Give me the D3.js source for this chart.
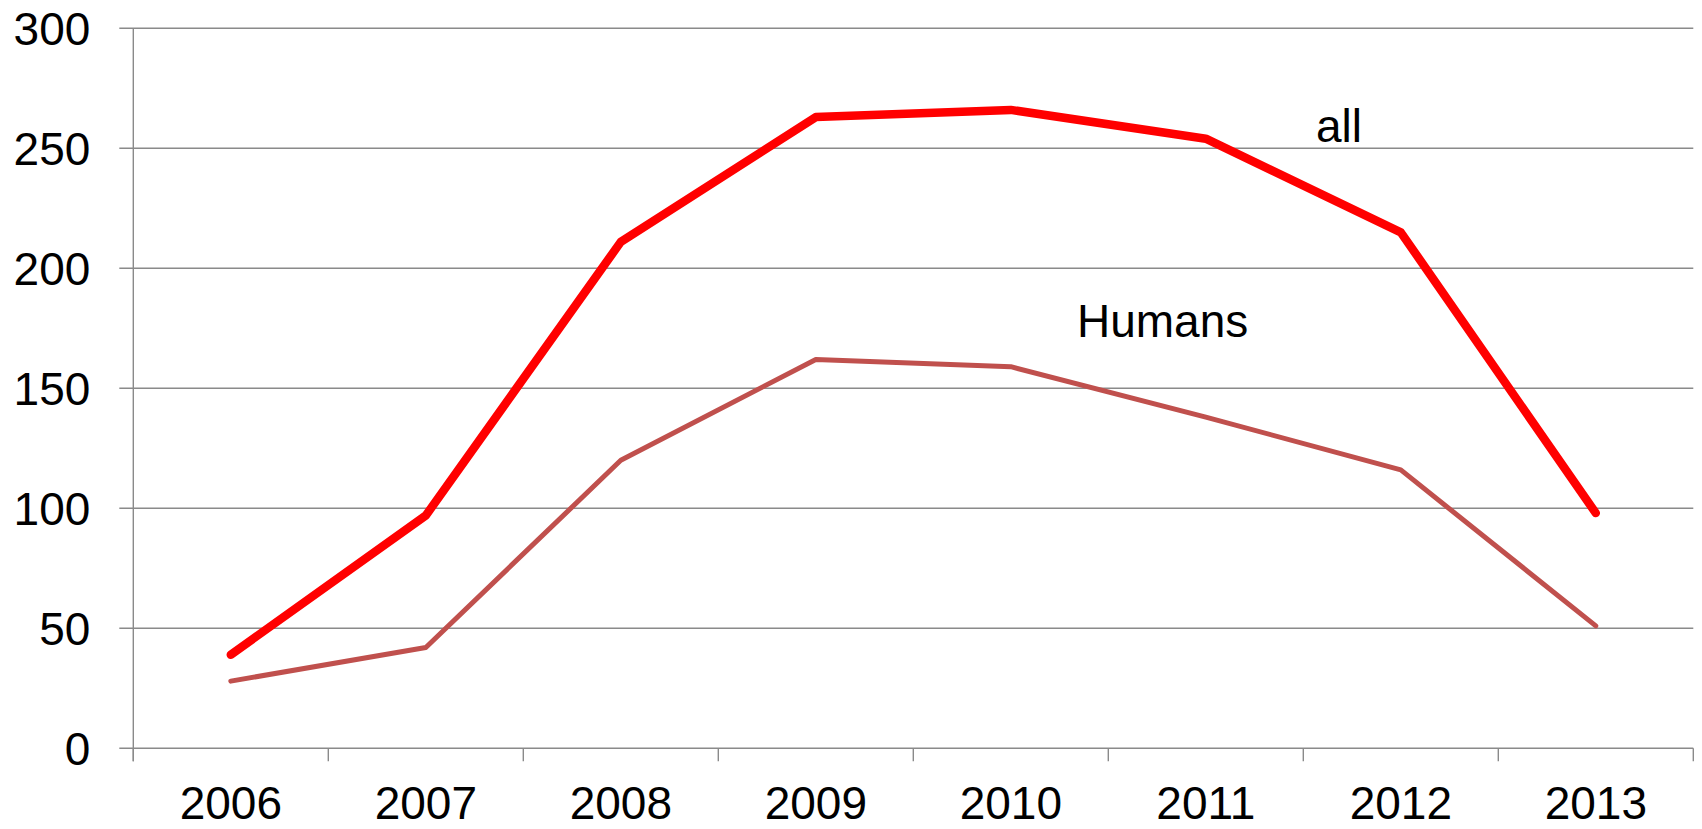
<!DOCTYPE html>
<html>
<head>
<meta charset="utf-8">
<script src="https://cdn.jsdelivr.net/npm/d3@7"></script>
<style>
  body { margin: 0; background: #fff; }
  text { font-family: Arial, "Liberation Sans", sans-serif; fill: #000; }
</style>
</head>
<body>
<div id="chart"></div>
<script>
'use strict';

const years = ["2006", "2007", "2008", "2009", "2010", "2011", "2012", "2013"];
const allValues = [39, 97, 211, 263, 266, 254, 215, 98];
const humanValues = [28, 42, 120, 162, 159, 138, 116, 51];
const yTicks = [0, 50, 100, 150, 200, 250, 300];

const width = 1702, height = 829;
const margin = { top: 28.3, right: 8.7, bottom: 80.7, left: 133.3 };
const innerW = width - margin.left - margin.right;
const innerH = height - margin.top - margin.bottom;

const svg = d3.select("#chart")
    .append("svg")
    .attr("width", width)
    .attr("height", height);

const g = svg.append("g")
    .attr("transform", "translate(" + margin.left + "," + margin.top + ")");

const x = d3.scaleBand()
    .domain(years)
    .range([0, innerW]);

const y = d3.scaleLinear()
    .domain([0, 300])
    .range([innerH, 0]);

// horizontal gridlines with small ticks to the left of the axis
g.selectAll(".grid")
    .data(yTicks)
    .enter()
    .append("line")
    .attr("class", "grid")
    .attr("x1", -14)
    .attr("x2", innerW)
    .attr("y1", d => y(d))
    .attr("y2", d => y(d))
    .attr("stroke", "#8a8a8a")
    .attr("stroke-width", 1.4);

// vertical axis line
g.append("line")
    .attr("x1", 0).attr("x2", 0)
    .attr("y1", 0).attr("y2", innerH + 13)
    .attr("stroke", "#8a8a8a")
    .attr("stroke-width", 1.4);

// category boundary ticks below the x axis
const boundaries = years.map(d => x(d) + x.bandwidth()).concat([0]);
g.selectAll(".xtick")
    .data(boundaries)
    .enter()
    .append("line")
    .attr("x1", d => d).attr("x2", d => d)
    .attr("y1", innerH).attr("y2", innerH + 13)
    .attr("stroke", "#8a8a8a")
    .attr("stroke-width", 1.4);

// y labels
g.selectAll(".ylabel")
    .data(yTicks)
    .enter()
    .append("text")
    .attr("x", -43)
    .attr("y", d => y(d))
    .attr("dy", "0.36em")
    .attr("text-anchor", "end")
    .style("font-size", "46px")
    .text(d => d);

// x labels
g.selectAll(".xlabel")
    .data(years)
    .enter()
    .append("text")
    .attr("x", d => x(d) + x.bandwidth() / 2)
    .attr("y", innerH + 71)
    .attr("text-anchor", "middle")
    .style("font-size", "46px")
    .text(d => d);

const line = d3.line()
    .x((d, i) => x(years[i]) + x.bandwidth() / 2)
    .y(d => y(d));

g.append("path")
    .datum(humanValues)
    .attr("d", line)
    .attr("fill", "none")
    .attr("stroke", "#c0504d")
    .attr("stroke-width", 5)
    .attr("stroke-linecap", "round")
    .attr("stroke-linejoin", "round");

g.append("path")
    .datum(allValues)
    .attr("d", line)
    .attr("fill", "none")
    .attr("stroke", "#ff0000")
    .attr("stroke-width", 8.5)
    .attr("stroke-linecap", "round")
    .attr("stroke-linejoin", "round");

// series labels
svg.append("text")
    .attr("x", 1316)
    .attr("y", 141.7)
    .style("font-size", "46px")
    .text("all");

svg.append("text")
    .attr("x", 1077)
    .attr("y", 336.7)
    .style("font-size", "46px")
    .text("Humans");
</script>
</body>
</html>
